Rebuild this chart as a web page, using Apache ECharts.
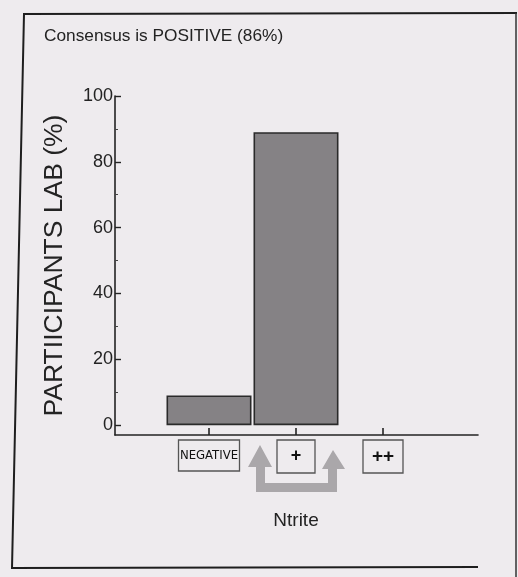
<!DOCTYPE html>
<html>
<head>
<meta charset="utf-8">
<script src="https://cdn.jsdelivr.net/npm/echarts@6/dist/echarts.min.js"></script>
<style>
html,body{margin:0;padding:0;background:#eeebee;}
#c{width:518px;height:577px;}
</style>
</head>
<body>
<div id="c"></div>
<script>
// ---- data ----
const titleText = 'Consensus is POSITIVE (86%)';
const categories = ['NEGATIVE', '+', '++'];
const participantsLab = [9, 89, 0];
const yTickValues = [0, 20, 40, 60, 80, 100];
const yMinorTickValues = [10, 30, 50, 70, 90];
const yAxisName = 'PARTIICIPANTS LAB (%)';
const xAxisName = 'Ntrite';

const richKey = {'NEGATIVE': 'neg', '+': 'pos', '++': 'pp'};
const ink = '#232323';

const chart = echarts.init(document.getElementById('c'), null, {renderer: 'canvas'});
const option = {
  backgroundColor: '#eeebee',
  animation: false,
  title: {
    text: titleText, left: 39, top: 23,
    textStyle: {fontFamily: 'Liberation Sans, Arial', fontSize: 17.3, fontWeight: 'normal', color: ink}
  },
  grid: [
    {left: 115, right: 40, top: 96, bottom: 142},
    {left: 165.5, width: 261, top: 96, bottom: 142}
  ],
  xAxis: [
    {gridIndex: 0, type: 'value', min: 0, max: 1,
     axisLine: {show: true, onZero: false, lineStyle: {color: ink, width: 1.6}},
     axisTick: {show: false}, axisLabel: {show: false}, splitLine: {show: false}},
    {gridIndex: 1, type: 'category', data: categories,
     axisLine: {show: false, onZero: false},
     axisTick: {show: true, inside: true, alignWithLabel: true, length: 7, lineStyle: {color: ink, width: 1.6}},
     axisLabel: {
       margin: 5, interval: 0,
       formatter: v => '{' + richKey[v] + '|' + v + '}',
       rich: {
         neg: {fontFamily: 'DejaVu Sans Condensed, Liberation Sans, Arial', fontSize: 13, color: '#111',
               width: 61, height: 31, lineHeight: 31, align: 'center', borderColor: '#555', borderWidth: 1.3},
         pos: {fontFamily: 'Liberation Sans, Arial', fontSize: 18, fontWeight: 'bold', color: '#111',
               width: 38, height: 33, lineHeight: 33, align: 'center', borderColor: '#555', borderWidth: 1.3},
         pp: {fontFamily: 'Liberation Sans, Arial', fontSize: 19, fontWeight: 'bold', color: '#111',
              width: 40, height: 33, lineHeight: 33, align: 'center', borderColor: '#555', borderWidth: 1.3}
       }
     },
     name: xAxisName, nameLocation: 'middle', nameGap: 76,
     nameTextStyle: {fontFamily: 'Liberation Sans, Arial', fontSize: 19, color: ink}}
  ],
  yAxis: [
    {gridIndex: 0, type: 'value', min: -3, max: 100, position: 'left',
     axisLine: {show: true, lineStyle: {color: ink, width: 1.6}},
     axisTick: {show: true, inside: true, length: 6, customValues: yTickValues, lineStyle: {color: ink, width: 1.4}},
     axisLabel: {customValues: yTickValues, margin: 2, fontFamily: 'Liberation Sans, Arial', fontSize: 18, color: ink},
     splitLine: {show: false},
     name: yAxisName, nameLocation: 'middle', nameGap: 47, nameRotate: 90,
     nameTextStyle: {fontFamily: 'Liberation Sans, Arial', fontSize: 26.5, color: ink}},
    {gridIndex: 0, type: 'value', min: -3, max: 100, position: 'left',
     axisLine: {show: false},
     axisTick: {show: true, inside: true, length: 3, customValues: yMinorTickValues, lineStyle: {color: '#444', width: 1}},
     axisLabel: {show: false}, splitLine: {show: false}},
    {gridIndex: 1, type: 'value', min: -3, max: 100, show: false}
  ],
  series: [{
    type: 'bar', xAxisIndex: 1, yAxisIndex: 2, barWidth: 85,
    data: participantsLab.map(v => v === 0 ? {value: v, itemStyle: {borderWidth: 0}} : v),
    itemStyle: {color: '#858285', borderColor: '#2a2a2a', borderWidth: 1.6}
  }],
  graphic: [
    {type: 'polyline', silent: true,
     shape: {points: [[478, 567], [12, 568], [24, 14], [517, 13]]},
     style: {stroke: '#1e1e1e', lineWidth: 2, fill: null}},
    {type: 'line', silent: true, shape: {x1: 516, y1: 13, x2: 516, y2: 577},
     style: {stroke: '#333', lineWidth: 1.5}},
    {type: 'polygon', silent: true,
     shape: {points: [[256, 492], [256, 467], [248, 467], [260, 445], [272, 467], [265, 467], [265, 483],
                      [328, 483], [328, 469], [322, 469], [333, 450], [345, 469], [337, 469], [337, 492]]},
     style: {fill: '#aaa7aa', stroke: null}}
  ]
};
chart.setOption(option);
</script>
</body>
</html>
